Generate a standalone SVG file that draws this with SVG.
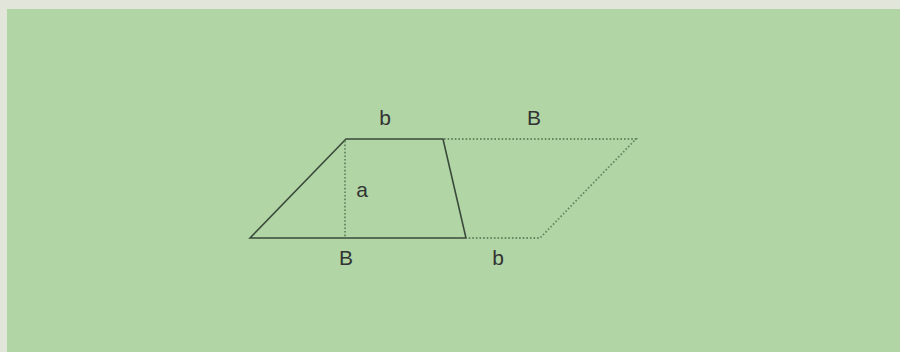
<svg xmlns="http://www.w3.org/2000/svg" width="900" height="352" viewBox="0 0 900 352">
<style>
.solid{fill:none;stroke:#3a4a3a;stroke-width:1.6;stroke-linejoin:miter}
.dot{fill:none;stroke:#66875f;stroke-width:1.8;stroke-dasharray:1.6 2}
.lbl{font-family:"Liberation Sans",Arial,sans-serif;font-size:21px;fill:#333;text-anchor:middle}
</style>
<rect x="0" y="0" width="900" height="352" fill="#e2e6da"/>
<rect x="7" y="9" width="893" height="343" fill="#b1d5a5"/>
<g id="connectors">
<polygon class="solid" points="250,238 346,139 443,139 466,238"/>
<line class="dot" x1="345" y1="141" x2="345" y2="237"/>
<polyline class="dot" points="444,139 636,139 540,238 467,238"/>
</g>
<g id="labels">
<text class="lbl" x="385" y="125">b</text>
<text class="lbl" x="534" y="125">B</text>
<text class="lbl" x="362" y="197">a</text>
<text class="lbl" x="346" y="265">B</text>
<text class="lbl" x="498" y="265">b</text>
</g>
</svg>
